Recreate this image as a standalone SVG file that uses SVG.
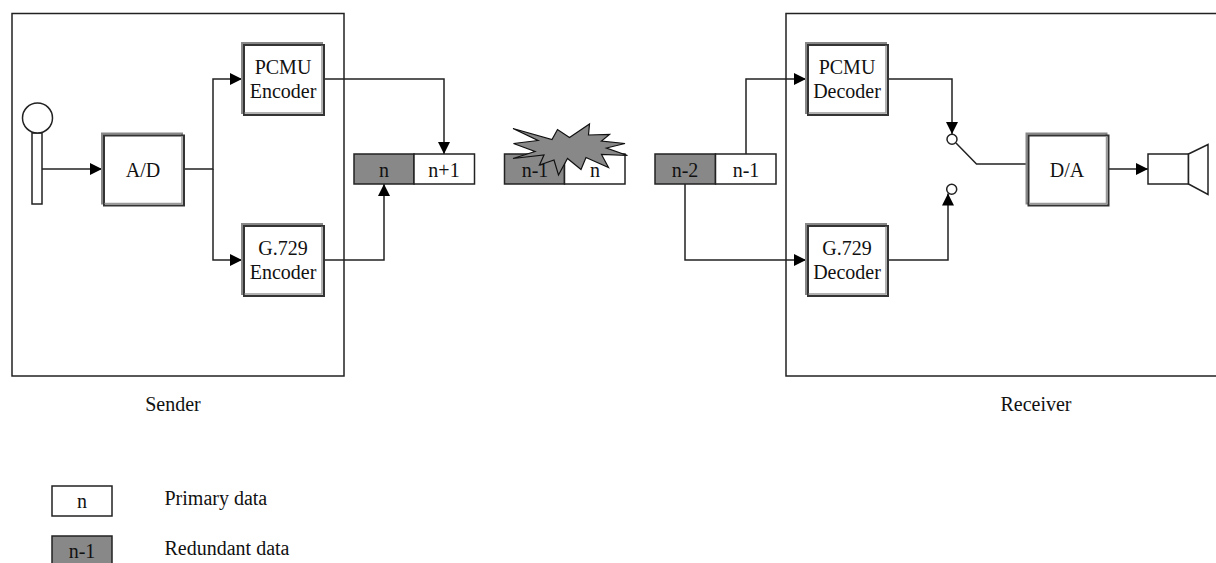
<svg xmlns="http://www.w3.org/2000/svg" width="1216" height="563" viewBox="0 0 1216 563">
<style>
text{font-family:"Liberation Serif","Times New Roman",serif;font-size:20px;fill:#111;text-anchor:middle}
text.l{text-anchor:start}
.ln{fill:none;stroke:#222;stroke-width:1.5}
.box{fill:none;stroke:#222;stroke-width:1.5}
.w{fill:#fff;stroke:#222;stroke-width:1.5}
.g{fill:#888;stroke:#222;stroke-width:1.5}
.b1{fill:#fff;stroke:#888;stroke-width:2}
.b2{fill:#fff;stroke:#333;stroke-width:2}
.b3{fill:none;stroke:#999;stroke-width:1.5}
.star{fill:#888;stroke:#111;stroke-width:1.2}
</style>
<defs>
<marker id="a" markerUnits="userSpaceOnUse" markerWidth="14" markerHeight="14" refX="12" refY="6.500" orient="auto"><path d="M0 0.500L12 6.500L0 12.500Z" fill="#000"/></marker>
<g id="block"><rect class="b1" x="0.500" y="0.500" width="80" height="70"/><rect class="b2" x="2.500" y="2.500" width="80" height="70"/><path class="b3" d="M80.500 3V70.500H3"/></g>
</defs>
<g id="sender"><rect class="box" x="12" y="13.500" width="332" height="362.500"/><text x="173" y="411">Sender</text></g>
<g id="receiver"><rect class="box" x="786" y="13.500" width="450" height="362.500"/><text x="1036" y="411">Receiver</text></g>
<g id="connectors">
<path class="ln" d="M42 169H102" marker-end="url(#a)"/>
<path class="ln" d="M184 169H213V79H242" marker-end="url(#a)"/>
<path class="ln" d="M213 169V260H242" marker-end="url(#a)"/>
<path class="ln" d="M325 79H444V154" marker-end="url(#a)"/>
<path class="ln" d="M325 260H384V184" marker-end="url(#a)"/>
<path class="ln" d="M746 154V79H806" marker-end="url(#a)"/>
<path class="ln" d="M685 184V260H806" marker-end="url(#a)"/>
<path class="ln" d="M888 79H952V134" marker-end="url(#a)"/>
<path class="ln" d="M888 260H948V193.500" marker-end="url(#a)"/>
<path class="ln" d="M956 143L976.500 164H1027"/>
<path class="ln" d="M1109 169H1148" marker-end="url(#a)"/>
</g>
<g id="mic"><rect class="w" x="32" y="133" width="10" height="71"/><circle class="w" cx="37.500" cy="118" r="15"/></g>
<g id="ad"><use href="#block" x="101.500" y="133"/><text x="143" y="177">A/D</text></g>
<g id="pcmu-enc"><use href="#block" x="241.500" y="42.500"/><text x="283" y="74">PCMU</text><text x="283" y="98">Encoder</text></g>
<g id="g729-enc"><use href="#block" x="241.500" y="223.500"/><text x="283" y="255">G.729</text><text x="283" y="279">Encoder</text></g>
<g id="pcmu-dec"><use href="#block" x="805.500" y="42.500"/><text x="847" y="74">PCMU</text><text x="847" y="98">Decoder</text></g>
<g id="g729-dec"><use href="#block" x="805.500" y="223.500"/><text x="847" y="255">G.729</text><text x="847" y="279">Decoder</text></g>
<g id="da"><use href="#block" x="1026" y="133"/><text x="1067" y="177">D/A</text></g>
<g id="sw1"><circle class="w" cx="952" cy="139.300" r="5"/></g>
<g id="sw2"><circle class="w" cx="951.700" cy="189.300" r="5"/></g>
<g id="speaker"><rect class="w" x="1148" y="154" width="40.500" height="30"/><path class="w" d="M1188.500 154L1208 144.500V194.500L1188.500 184Z"/></g>
<g id="pkt1"><rect class="g" x="354" y="154" width="60" height="30"/><rect class="w" x="414" y="154" width="60.500" height="30"/><text x="384" y="177">n</text><text x="444" y="177">n+1</text></g>
<g id="pkt2"><rect class="g" x="504.500" y="154" width="60" height="30"/><rect class="w" x="564.500" y="154" width="60.500" height="30"/><text x="535" y="177">n-1</text><text x="595" y="177">n</text>
<path class="star" d="M513 128.500L552 139.500L557.500 129.500L569.500 137.500L589.500 124L588.500 135L609.500 134.500L601.500 141L625 143.500L606.500 148L627.500 155.500L601.500 154.500L608.500 167.500L586 157.500L581 169.500L567.500 158.500L558.500 175L554 160L539.500 165L544 155L513 158.500L535 151.500L513.500 143.500L538 140.500Z"/></g>
<g id="pkt3"><rect class="g" x="655" y="154" width="60.500" height="30"/><rect class="w" x="715.500" y="154" width="60.500" height="30"/><text x="685" y="177">n-2</text><text x="746" y="177">n-1</text></g>
<g id="legend-primary"><rect class="w" x="52" y="486" width="60" height="30"/><text x="82" y="508">n</text><text class="l" x="164.500" y="505">Primary data</text></g>
<g id="legend-redundant"><rect class="g" x="52" y="536" width="60" height="30"/><text x="82" y="558">n-1</text><text class="l" x="164.500" y="555">Redundant data</text></g>
</svg>
